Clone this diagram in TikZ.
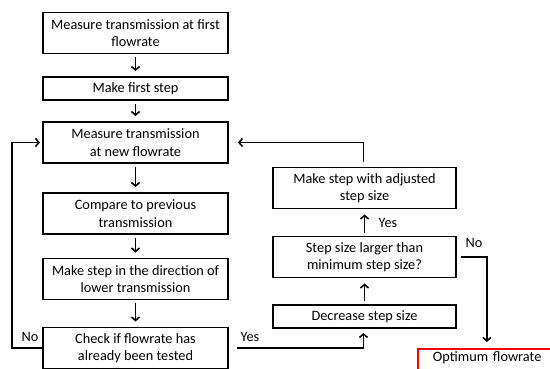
\documentclass[tikz,border=0pt]{standalone}
\usepackage{fontspec}
\setmainfont{Carlito}
\usetikzlibrary{arrows.meta}
\definecolor{FlowLine}{HTML}{000000}
\definecolor{FlowStop}{HTML}{FF0000}

\begin{document}
\begin{tikzpicture}[x=1pt,y=-1pt,
    every node/.style={font=\fontsize{14.3}{17.4}\selectfont},
    stepbox/.style={draw=FlowLine,line width=1.9pt,align=center,minimum width=185pt,minimum height=41pt,inner sep=2pt},
    stopbox/.style={draw=FlowStop,line width=1.9pt,align=left,text width=120pt,inner xsep=15pt,inner ysep=3pt,text depth=28pt},
    flow/.style={draw=FlowLine,line width=1.6pt,-{Straight Barb[length=3.5pt,width=8pt]}},
    answer/.style={inner sep=0pt}]
    \useasboundingbox (0,0) rectangle (550,368);
    \clip (0,0) rectangle (550,368);
    \node[stepbox] (first) at (135.5,33) {Measure transmission at first\\flowrate};
    \node[stepbox,minimum height=23pt] (firststep) at (135.5,88.5) {Make first step};
    \node[stepbox] (measure) at (135.5,142.5) {Measure transmission\\at new flowrate};
    \node[stepbox] (compare) at (135.5,213.5) {Compare to previous\\transmission};
    \node[stepbox] (direction) at (135.5,279) {Make step in the direction of\\lower transmission};
    \node[stepbox] (check) at (135.5,348) {Check if flowrate has\\already been tested};
    \node[stepbox,minimum width=183pt] (adjust) at (364.5,188) {Make step with adjusted\\step size};
    \node[stepbox,minimum width=183pt] (minsize) at (364.5,257) {Step size larger than\\minimum step size?};
    \node[stepbox,minimum width=183pt,minimum height=23pt] (decrease) at (364.5,316.5) {Decrease step size};
    \node[stopbox,anchor=north west] (optimum) at (417,348) {Optimum flowrate};
    \node[answer] (noleft) at (30,337) {No};
    \node[answer] (yesright) at (250,337) {Yes};
    \node[answer] (yesup) at (388,223) {Yes};
    \node[answer] (noright) at (474,243) {No};
    \coordinate (yesstart) at ([xshift=8pt]check.east);
    \coordinate (stopin) at ([xshift=-6pt]optimum.north);
    \foreach \a/\b in {first/firststep,firststep/measure,measure/compare,compare/direction,direction/check,decrease/minsize,minsize/adjust}
      \draw[flow,shorten <=3pt,shorten >=5pt] (\a) -- (\b);
    \draw[flow,shorten >=2pt] (check.west) -- ++(-30,0) |- (measure.west);
    \draw[flow,shorten >=4pt] (yesstart) -| ([xshift=-1pt]decrease.south);
    \draw[flow,shorten <=5pt,shorten >=9pt] ([xshift=-1pt]adjust.north) |- (measure.east);
    \draw[flow,shorten <=4pt,shorten >=6pt] (minsize.east) -| (stopin);
  \end{tikzpicture}
\end{document}
